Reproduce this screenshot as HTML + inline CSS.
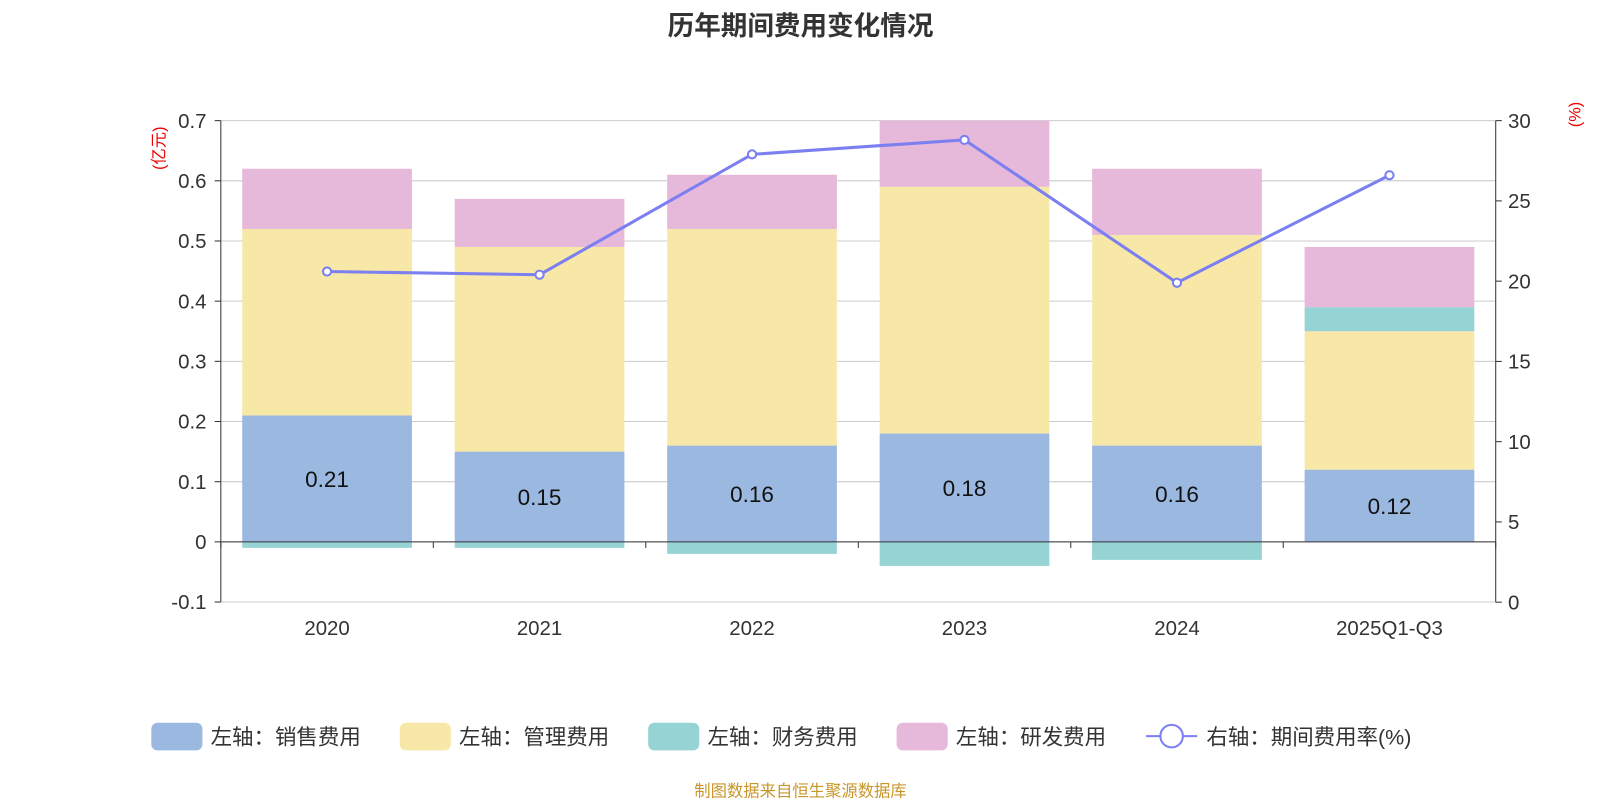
<!DOCTYPE html>
<html><head><meta charset="utf-8"><style>
body{margin:0;background:#fff;}
svg{display:block;font-family:"Liberation Sans","Noto Sans CJK SC",sans-serif;}
</style></head><body>
<svg id="c" width="1600" height="800">
<g transform="scale(1.02236)">
<text x="783" y="34" text-anchor="middle" font-size="26" font-weight="bold" fill="#333">历年期间费用变化情况</text>
<text x="783" y="779" text-anchor="middle" font-size="16" fill="#c8962a">制图数据来自恒生聚源数据库</text>
<g id="grid"></g><g id="bars"></g><g id="axes"></g><g id="line"></g><g id="legend"></g>
</g>
</svg>
<script>
const categories=["2020","2021","2022","2023","2024","2025Q1-Q3"];
const sales=[0.21,0.15,0.16,0.18,0.16,0.12];
const admin=[0.31,0.34,0.36,0.41,0.35,0.23];
const finance=[-0.01,-0.01,-0.02,-0.04,-0.03,0.04];
const rd=[0.10,0.08,0.09,0.11,0.11,0.10];
const rate=[20.6,20.4,27.9,28.8,19.9,26.6];
const leftTicks=[-0.1,0,0.1,0.2,0.3,0.4,0.5,0.6,0.7];
const rightTicks=[0,5,10,15,20,25,30];
const NS="http://www.w3.org/2000/svg";
const X0=216,X1=1463;
const yL=v=>530-v*(412/0.7);
const yR=v=>589-v*(471/30);
const band=(X1-X0)/categories.length;
const xC=i=>X0+band*(i+0.5);
const bw=166;
function mk(tag,attrs,parent){const e=document.createElementNS(NS,tag);for(const k in attrs)e.setAttribute(k,attrs[k]);document.getElementById(parent).appendChild(e);return e;}
leftTicks.forEach(t=>{
 const g=mk('line',{x1:X0,x2:X1,y1:yL(t),y2:yL(t),stroke:'#ccc','stroke-width':1},'grid');
 
 
 const tx=mk('text',{x:X0-14,y:yL(t)+7,'text-anchor':'end','font-size':20,fill:'#333'},'axes');
 tx.textContent=(t===0?'0':t.toString());
 
 
 mk('line',{x1:X0-6,x2:X0,y1:yL(t),y2:yL(t),stroke:'#333'},'axes');
});
rightTicks.forEach(t=>{
 const tx=mk('text',{x:X1+12,y:yR(t)+7,'font-size':20,fill:'#333'},'axes');
 tx.textContent=t;
 
 
 mk('line',{x1:X1,x2:X1+6,y1:yR(t),y2:yR(t),stroke:'#333'},'axes');
});
const series=[[sales,'#9bb8e0'],[admin,'#f8e8a8'],[finance,'#96d3d4'],[rd,'#e6b8d9']];
const names=['bar-sales','bar-admin','bar-finance','bar-rd'];
categories.forEach((c,i)=>{
 let pos=0,neg=0;
 series.forEach(([arr,col],s)=>{
  const v=arr[i];let y0,y1;
  if(v>=0){y0=pos;y1=pos+v;pos=y1;}else{y0=neg;y1=neg+v;neg=y1;}
  const r=mk('rect',{x:xC(i)-bw/2,y:Math.min(yL(y0),yL(y1)),width:bw,height:Math.abs(yL(y1)-yL(y0)),fill:col},'bars');
  
  
 });
 const lb=mk('text',{x:xC(i),y:yL(sales[i]/2)+8,'text-anchor':'middle','font-size':22,fill:'#111'},'bars');
 lb.textContent=sales[i].toFixed(2);
 
 
 const xl=mk('text',{x:xC(i),y:621,'text-anchor':'middle','font-size':20,fill:'#333'},'axes');
 xl.textContent=c;
 
 
});
mk('line',{x1:X0,x2:X1,y1:yL(0),y2:yL(0),stroke:'#333'},'axes');
for(let i=0;i<=categories.length;i++)mk('line',{x1:X0+band*i,x2:X0+band*i,y1:yL(0),y2:yL(0)+6,stroke:'#333'},'axes');
mk('line',{x1:X0,x2:X0,y1:yL(0.7),y2:yL(-0.1),stroke:'#333'},'axes');
mk('line',{x1:X1,x2:X1,y1:yR(30),y2:yR(0),stroke:'#333'},'axes');
let t=mk('text',{x:0,y:0,'font-size':16,fill:'#e00',transform:'translate(161,145) rotate(-90)','text-anchor':'middle'},'axes');t.textContent='(亿元)';

t=mk('text',{x:0,y:0,'font-size':16,fill:'#e00',transform:'translate(1546,112) rotate(-90)','text-anchor':'middle'},'axes');t.textContent='(%)';

const pl=mk('polyline',{points:rate.map((v,i)=>xC(i)+','+yR(v)).join(' '),fill:'none',stroke:'#7b7ff0','stroke-width':3},'line');

rate.forEach((v,i)=>{const p=mk('circle',{cx:xC(i),cy:yR(v),r:4,fill:'#fff',stroke:'#7b7ff0','stroke-width':2},'line');
 });
const leg=[['左轴：销售费用','#9bb8e0',148],['左轴：管理费用','#f8e8a8',391],['左轴：财务费用','#96d3d4',634],['左轴：研发费用','#e6b8d9',877]];
leg.forEach(([n,c,x])=>{
 const r=mk('rect',{x:x,y:707,width:50,height:27,rx:6,fill:c},'legend');
 
 const tt=mk('text',{x:x+58,y:728,'font-size':21,fill:'#333'},'legend');tt.textContent=n;
 
});
mk('line',{x1:1121,x2:1171,y1:720,y2:720,stroke:'#7b7ff0','stroke-width':2},'legend');
const lc=mk('circle',{cx:1146,cy:720,r:11,fill:'#fff',stroke:'#7b7ff0','stroke-width':2},'legend');

const lt=mk('text',{x:1180,y:728,'font-size':21,fill:'#333'},'legend');lt.textContent='右轴：期间费用率(%)';

</script>
</body></html>
